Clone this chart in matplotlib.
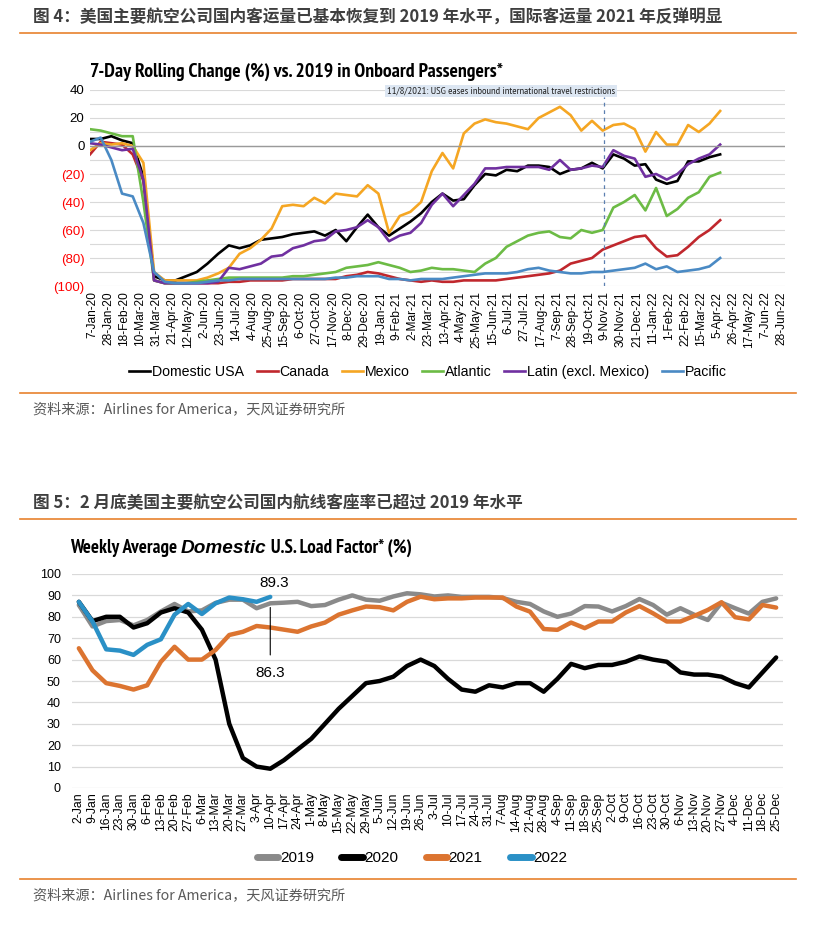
import numpy as np
import pandas as pd
import matplotlib
matplotlib.use("Agg")
import matplotlib.pyplot as plt
from matplotlib.lines import Line2D
from matplotlib import font_manager
from matplotlib.font_manager import FontProperties
from matplotlib.textpath import TextToPath

# ---------------- data: figure 4 (7-day rolling change vs 2019) ----------------
top_dates = pd.date_range('2020-01-04', periods=60, freq='14D')

domestic = [5, 5, 7, 4, 2, -22, -93, -96, -96, -93,
            -90, -84, -77, -71, -73, -71, -67, -66, -65, -63,
            -62, -61, -64, -60, -68, -58, -49, -58, -64, -59,
            -54, -48, -40, -34, -39, -38, -28, -20, -21, -17,
            -18, -14, -14, -15, -20, -17, -16, -12, -16, -6,
            -9, -14, -13, -24, -27, -25, -11, -11, -8, -6]
canada = [-6, 3, 2, 1, -6, -25, -96, -98, -98, -98,
          -98, -98, -98, -97, -97, -96, -96, -96, -96, -95,
          -95, -95, -95, -95, -93, -92, -90, -91, -93, -95,
          -96, -97, -96, -97, -97, -96, -96, -96, -96, -95,
          -94, -93, -92, -91, -89, -84, -82, -80, -74, -71,
          -68, -65, -64, -73, -79, -78, -72, -65, -60, -53]
mexico = [-3, 2, 1, 2, 0, -12, -90, -96, -96, -96,
          -96, -94, -91, -87, -77, -73, -67, -59, -43, -42,
          -43, -37, -41, -34, -35, -36, -28, -34, -62, -50,
          -47, -40, -18, -5, -16, 9, 16, 19, 17, 16,
          14, 12, 20, 24, 28, 22, 11, 18, 11, 15,
          16, 12, -4, 10, 1, 1, 15, 10, 16, 25]
atlantic = [12, 11, 9, 7, 7, -40, -96, -98, -98, -98,
            -97, -96, -95, -94, -94, -94, -94, -94, -94, -93,
            -93, -92, -91, -90, -87, -86, -85, -83, -85, -87,
            -90, -89, -87, -88, -88, -89, -90, -84, -80, -72,
            -68, -64, -62, -61, -65, -66, -60, -62, -60, -44,
            -40, -35, -46, -30, -50, -45, -37, -33, -22, -19]
latin = [2, 1, -1, -3, -2, -24, -96, -98, -98, -98,
         -98, -98, -97, -87, -88, -86, -84, -79, -78, -73,
         -71, -68, -67, -61, -60, -58, -53, -58, -68, -64,
         -62, -55, -42, -34, -43, -35, -27, -16, -16, -15,
         -15, -15, -15, -17, -10, -17, -16, -14, -15, -3,
         -7, -9, -22, -20, -24, -20, -13, -9, -6, 1]
pacific = [3, 6, -10, -34, -36, -55, -90, -97, -98, -98,
           -98, -97, -96, -96, -95, -95, -95, -95, -95, -95,
           -95, -95, -95, -94, -94, -93, -93, -93, -95, -95,
           -96, -95, -95, -95, -94, -93, -92, -91, -91, -91,
           -90, -88, -87, -89, -90, -91, -91, -90, -90, -89,
           -88, -87, -84, -88, -86, -90, -89, -88, -86, -80]

top_names = ['Domestic USA', 'Canada', 'Mexico', 'Atlantic',
             'Latin (excl. Mexico)', 'Pacific']
top_colors = ['#000000', '#c0272d', '#f5a623', '#6cbb45', '#7030a0', '#4a8ac4']
top_ticks = pd.date_range('2020-01-07', '2022-06-28', freq='21D')

# ---------------- data: figure 5 (weekly load factor) ----------------
week_days = pd.date_range('2019-01-02', periods=52, freq='7D')
week_labels = [f"{d.day}-{d:%b}" for d in week_days]

lf_2019 = [85.5, 75.5, 78, 78.5, 76, 78.5, 82.5, 86, 82.5, 83,
           86.5, 88, 88, 84, 86.3, 86.6, 87, 85, 85.5, 88,
           90, 88, 87.5, 89.5, 91, 90.5, 89.5, 90, 89.3, 89.3,
           89.3, 88.8, 87, 86, 82.5, 80, 81.5, 85, 84.8, 82.5,
           85, 88.3, 85.5, 81, 84, 81, 78.5, 86.6, 84, 81.5,
           87, 88.6]
lf_2020 = [87, 78, 80, 80, 75, 77, 82, 84, 82, 74,
           60, 30, 14, 10, 9, 13, 18, 23, 30, 37,
           43, 49, 50, 52, 57, 60, 57, 51, 46, 45,
           48, 47, 49, 49, 45, 51, 58, 56, 57.5, 57.5,
           59, 61.5, 60, 59, 54, 53, 53, 52, 49, 47,
           54, 61]
lf_2021 = [65.3, 55, 49, 47.7, 46, 48, 59, 66, 60, 60,
           64.5, 71.5, 73, 75.7, 75, 74, 73, 75.5, 77.3, 81,
           83, 84.8, 84.5, 83, 87, 89.4, 88.2, 88.6, 88.6, 89,
           89, 89, 84.8, 82.4, 74.3, 73.9, 77.3, 74.7, 77.8, 77.8,
           82, 85, 81.6, 77.8, 77.8, 80.4, 83.2, 86.8, 79.8, 78.8,
           85.5, 84.3]
lf_2022 = [87, 77.8, 64.8, 64.2, 62.2, 66.9, 69.5, 81, 86, 81.3,
           86.3, 89, 88.2, 87, 89.3]

lf_names = ['2019', '2020', '2021', '2022']
lf_colors = ['#8a8a8a', '#000000', '#dc7430', '#2a90c6']

cjk = ['Noto Sans CJK SC', 'DejaVu Sans']
plt.rcParams['font.family'] = ['Liberation Sans', 'DejaVu Sans']

TITLE = '7-Day Rolling Change (%) vs. 2019 in Onboard Passengers*'


def is_bold(w):
    if isinstance(w, (int, float)):
        return w >= 600
    return str(w).lower() in ('bold', 'semibold', 'demibold', 'heavy', 'black',
                              'extra bold', 'ultrabold', 'demi')


def weight_num(w):
    if isinstance(w, (int, float)):
        return w
    return {'bold': 700, 'semibold': 600, 'demibold': 600, 'heavy': 800,
            'black': 900, 'extra bold': 800}.get(str(w).lower(), 400)


# the original titles are set in a narrow bold face; pick the narrowest
# installed sans bold face by measuring the title with each one
ttp = TextToPath()
best = None
for f in font_manager.fontManager.ttflist:
    nm = f.name
    if 'Mono' in nm or 'CJK' in nm or f.style != 'normal':
        continue
    if not any(k in nm for k in ('Sans', 'Roboto', 'Lato', 'Inter', 'Liberation')):
        continue
    if not (650 <= weight_num(f.weight) <= 750):
        continue
    try:
        w = ttp.get_text_width_height_descent(TITLE, FontProperties(fname=f.fname, size=12),
                                              ismath=False)[0]
    except Exception:
        continue
    if best is None or w < best[0]:
        best = (w, f)

bold_file = best[1].fname if best else None
fam = best[1].name if best else None
bold_it_file = None
reg_file = None
for f in font_manager.fontManager.ttflist:
    if fam is None or f.name != fam:
        continue
    if f.style != 'normal' and 650 <= weight_num(f.weight) <= 750 and bold_it_file is None:
        bold_it_file = f.fname
    if f.style == 'normal' and weight_num(f.weight) == 400 and reg_file is None:
        reg_file = f.fname


def fprop(path, bold=False, italic=False):
    if path:
        return FontProperties(fname=path)
    return FontProperties(family='Liberation Sans', weight='bold' if bold else 'normal',
                          style='italic' if italic else 'normal')


W, H = 829, 927
fig = plt.figure(figsize=(W / 100, H / 100), dpi=100)


def fx(px):
    return px / W


def fy(py):
    return 1 - py / H


def rule(py):
    fig.add_artist(Line2D([fx(20), fx(796)], [fy(py), fy(py)],
                          color='#e8822e', lw=1.2))


def fit(texts, width_px, size):
    # scale font size so the run of texts spans the wanted width
    for t in texts:
        t.set_fontsize(size)
    fig.canvas.draw()
    r = fig.canvas.get_renderer()
    w = sum(t.get_window_extent(r).width for t in texts)
    for t in texts:
        t.set_fontsize(size * width_px / w)


# headers and sources
fig.text(fx(33), fy(18), '图 4：美国主要航空公司国内客运量已基本恢复到 2019 年水平，国际客运量 2021 年反弹明显',
         family=cjk, fontsize=12, fontweight='bold', color='#3f3f3f', va='center')
rule(33)
rule(393)
fig.text(fx(33), fy(409), '资料来源：Airlines for America，天风证券研究所',
         family=cjk, fontsize=10.2, color='#595959', va='center')

fig.text(fx(33), fy(503), '图 5：2 月底美国主要航空公司国内航线客座率已超过 2019 年水平',
         family=cjk, fontsize=12, fontweight='bold', color='#3f3f3f', va='center')
rule(519)
rule(879)
fig.text(fx(33), fy(895), '资料来源：Airlines for America，天风证券研究所',
         family=cjk, fontsize=10.2, color='#595959', va='center')

# ---------------- top chart ----------------
ax = fig.add_axes([fx(90), fy(286), fx(785) - fx(90), fy(90) - fy(286)])
series = [domestic, canada, mexico, atlantic, latin, pacific]
for vals, name, col in zip(series, top_names, top_colors):
    ax.plot(top_dates, vals, color=col, lw=1.9, label=name)

ax.set_ylim(-100, 40)
ax.set_xlim(pd.Timestamp('2020-01-04'), pd.Timestamp('2022-07-03'))
ax.set_yticks(range(-100, 41, 20))
ax.set_yticks(range(-90, 41, 20), minor=True)
ax.grid(axis='y', which='both', color='#d9d9d9', lw=0.8)
ax.axhline(0, color='#9a9a9a', lw=1.0)
ax.set_yticklabels([f"({-v})" if v < 0 else str(v) for v in range(-100, 41, 20)],
                   fontsize=9.5)
for lab, v in zip(ax.get_yticklabels(), range(-100, 41, 20)):
    lab.set_color('#ff0000' if v < 0 else 'black')
ax.set_xticks(top_ticks)
ax.set_xticklabels([f"{d.day}-{d:%b-%y}" for d in top_ticks], rotation=90, fontsize=8.6)
ax.tick_params(length=0, pad=4)
ax.tick_params(axis='y', which='minor', length=0)
for s in ax.spines.values():
    s.set_visible(False)

usg = pd.Timestamp('2021-11-08')
ax.plot([usg, usg], [-100, 35], color='#5b7fb0', lw=0.9, ls=(0, (3, 3)))
box = fig.text(fx(501), fy(91), '11/8/2021: USG eases inbound international travel restrictions',
               fontproperties=fprop(reg_file), ha='center', va='center', color='#222222',
               bbox=dict(facecolor='#dce6f2', edgecolor='none', pad=1.8))

ttl = fig.text(fx(90), fy(72), TITLE, fontproperties=fprop(bold_file, bold=True), va='center')

fig.legend(*ax.get_legend_handles_labels(), loc='center', bbox_to_anchor=(0.516, fy(372)),
           ncol=6, frameon=False, fontsize=10.2, handlelength=1.5, handletextpad=0.1,
           columnspacing=0.9)

# ---------------- bottom chart ----------------
ax2 = fig.add_axes([fx(72), fy(788), fx(783) - fx(72), fy(574) - fy(788)])
x = np.arange(len(week_labels))
for vals, name, col in zip([lf_2019, lf_2020, lf_2021, lf_2022], lf_names, lf_colors):
    ax2.plot(x[:len(vals)], vals, color=col, lw=3.2, label=name,
             solid_capstyle='round', solid_joinstyle='round')

ax2.set_xlim(-0.5, 51.5)
ax2.set_ylim(0, 100)
ax2.set_yticks(range(0, 101, 10))
ax2.set_yticklabels([str(v) for v in range(0, 101, 10)], fontsize=9)
ax2.set_xticks(x)
ax2.set_xticklabels(week_labels, rotation=90, fontsize=8.8)
ax2.grid(axis='y', color='#d9d9d9', lw=0.9)
ax2.tick_params(length=0, pad=3)
ax2.tick_params(axis='y', pad=8)
for s in ax2.spines.values():
    s.set_visible(False)

ax2.annotate('89.3', xy=(14, lf_2022[14]), xytext=(14.3, 95.8), ha='center', va='center',
             fontsize=11)
ax2.annotate('86.3', xy=(14, lf_2019[14]), xytext=(14.0, 53.7), ha='center', va='center',
             fontsize=11, arrowprops=dict(arrowstyle='-', color='black', lw=0.8,
                                          shrinkA=6, shrinkB=3))

t1 = fig.text(fx(70), fy(548), 'Weekly Average ', fontproperties=fprop(bold_file, bold=True),
              va='center')
t2 = ax2.annotate('Domestic', xy=(1, 0), xycoords=t1, va='bottom', ha='left',
                  fontproperties=fprop(bold_it_file, bold=True, italic=True),
                  annotation_clip=False)
t3 = ax2.annotate(' U.S. Load Factor* (%)', xy=(1, 0), xycoords=t2, va='bottom', ha='left',
                  fontproperties=fprop(bold_file, bold=True), annotation_clip=False)

handles = [Line2D([0], [0], color=c, lw=5, solid_capstyle='round') for c in lf_colors]
fig.legend(handles, lf_names, loc='center', bbox_to_anchor=(0.497, fy(858)), ncol=4,
           frameon=False, fontsize=11, handlelength=1.4, handletextpad=0.1,
           columnspacing=1.8)

# size the titles to the widths they take in the original
fit([ttl], 415, 12.5)
fit([t1, t2, t3], 340, 12)
fit([box], 228, 6.3)

fig.savefig('out.png', dpi=100)
